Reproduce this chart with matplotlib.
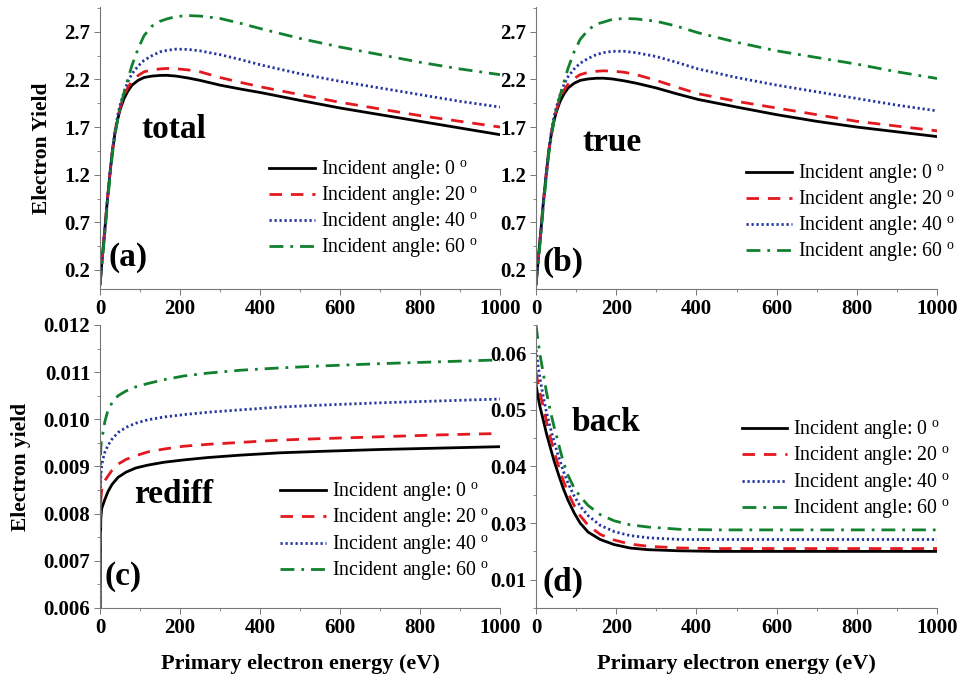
import numpy as np
import matplotlib
matplotlib.use("Agg")
import matplotlib.pyplot as plt
from matplotlib.ticker import MultipleLocator, FixedLocator, FixedFormatter, FormatStrFormatter

plt.rcParams['font.family'] = ['Liberation Serif', 'DejaVu Serif']
plt.rcParams['mathtext.fontset'] = 'custom'
plt.rcParams['mathtext.rm'] = 'Liberation Serif'

angles = [0, 20, 40, 60]
labels = ['Incident angle: %d $^{\\rm o}$' % a for a in angles]
colors = ['black', '#e3191f', '#2536a0', '#11802f']
styles = ['-', (0, (4.5, 3.2)), (0, (0.8, 1.0)), (0, (5, 2.5, 1, 2.5))]

# (a) total yield
total_x = [0, 6, 12.5, 18, 25, 31, 37.5, 44, 50, 60, 70, 80, 95, 110, 130, 150, 167, 190, 220,
           250, 300, 350, 404, 500, 600, 700, 800, 900, 1000]
total_y = [
    [0.05, 0.35, 0.65, 0.92, 1.22, 1.45, 1.64, 1.78, 1.88, 2.00, 2.08, 2.14, 2.19, 2.22, 2.235,
     2.242, 2.243, 2.235, 2.215, 2.19, 2.14, 2.10, 2.06, 1.98, 1.90, 1.83, 1.76, 1.69, 1.62],
    [0.05, 0.35, 0.65, 0.92, 1.22, 1.46, 1.65, 1.80, 1.90, 2.03, 2.12, 2.18, 2.24, 2.28, 2.30,
     2.31, 2.315, 2.312, 2.30, 2.28, 2.22, 2.17, 2.12, 2.04, 1.96, 1.89, 1.82, 1.76, 1.70],
    [0.05, 0.35, 0.65, 0.92, 1.22, 1.46, 1.66, 1.82, 1.93, 2.07, 2.18, 2.26, 2.34, 2.40, 2.45,
     2.49, 2.505, 2.518, 2.515, 2.50, 2.46, 2.41, 2.35, 2.26, 2.18, 2.11, 2.04, 1.97, 1.91],
    [0.05, 0.32, 0.60, 0.88, 1.18, 1.42, 1.62, 1.78, 1.90, 2.06, 2.21, 2.35, 2.52, 2.66, 2.76,
     2.81, 2.835, 2.86, 2.87, 2.865, 2.84, 2.79, 2.73, 2.63, 2.54, 2.46, 2.38, 2.31, 2.25],
]

# (b) true secondary yield
true_x = total_x
true_y = [
    [0.05, 0.34, 0.63, 0.90, 1.19, 1.42, 1.61, 1.75, 1.85, 1.97, 2.05, 2.11, 2.16, 2.19, 2.205,
     2.212, 2.213, 2.205, 2.185, 2.16, 2.11, 2.05, 1.99, 1.91, 1.83, 1.76, 1.70, 1.65, 1.60],
    [0.05, 0.34, 0.63, 0.90, 1.19, 1.43, 1.62, 1.77, 1.87, 2.00, 2.09, 2.15, 2.21, 2.25, 2.275,
     2.285, 2.29, 2.288, 2.275, 2.25, 2.19, 2.12, 2.05, 1.97, 1.90, 1.83, 1.76, 1.71, 1.66],
    [0.05, 0.34, 0.63, 0.90, 1.19, 1.43, 1.63, 1.79, 1.90, 2.04, 2.15, 2.23, 2.31, 2.37, 2.42,
     2.46, 2.48, 2.495, 2.495, 2.48, 2.44, 2.38, 2.31, 2.22, 2.14, 2.07, 2.00, 1.93, 1.87],
    [0.05, 0.31, 0.58, 0.86, 1.15, 1.39, 1.59, 1.75, 1.87, 2.03, 2.18, 2.32, 2.49, 2.62, 2.72,
     2.78, 2.80, 2.83, 2.84, 2.835, 2.81, 2.76, 2.69, 2.59, 2.50, 2.43, 2.36, 2.28, 2.21],
]

# (c) rediffused yield
rediff_x = [0, 1, 2, 4, 7, 12, 20, 30, 45, 65, 90, 120, 160, 210, 270, 350, 450, 550, 700, 850, 1000]
rediff_y = [
    [0.006, 0.0074, 0.0079, 0.0081, 0.00818, 0.0083, 0.00847, 0.00862, 0.00877, 0.00888, 0.00897,
     0.00903, 0.00909, 0.00914, 0.00919, 0.00924, 0.00929, 0.00932, 0.00936, 0.00939, 0.00942],
    [0.006, 0.0079, 0.0083, 0.0085, 0.0086, 0.0087, 0.00880, 0.00892, 0.00905, 0.00915, 0.00923,
     0.00931, 0.00937, 0.00943, 0.00947, 0.00951, 0.00956, 0.00959, 0.00963, 0.00967, 0.00970],
    [0.006, 0.0085, 0.0088, 0.0090, 0.00915, 0.0093, 0.00945, 0.00958, 0.00972, 0.00983, 0.00992,
     0.00999, 0.01005, 0.01010, 0.01015, 0.01020, 0.01026, 0.01030, 0.01035, 0.01039, 0.01043],
    [0.006, 0.0090, 0.0094, 0.0096, 0.0097, 0.00995, 0.01020, 0.01035, 0.01050, 0.01060, 0.01069,
     0.01076, 0.01084, 0.01092, 0.01098, 0.01104, 0.01109, 0.01113, 0.01118, 0.01122, 0.01126],
]

# (d) backscattered yield
back_x = [0, 5, 10, 18, 26, 35, 45, 55, 68, 80, 95, 110, 130, 160, 195, 234, 280, 359, 450, 600,
          800, 1000]
back_y = [
    [0.0544, 0.0523, 0.0505, 0.0482, 0.0458, 0.0435, 0.0410, 0.0388, 0.0361, 0.0340, 0.0318,
     0.0300, 0.0284, 0.0271, 0.0262, 0.0256, 0.0253, 0.0251, 0.0250, 0.0250, 0.0250, 0.0250],
    [0.0567, 0.0547, 0.0529, 0.0506, 0.0479, 0.0453, 0.0427, 0.0403, 0.0375, 0.0353, 0.0331,
     0.0313, 0.0296, 0.0280, 0.0270, 0.0263, 0.0259, 0.0256, 0.0255, 0.0255, 0.0255, 0.0255],
    [0.0606, 0.0578, 0.0555, 0.0523, 0.0496, 0.0470, 0.0444, 0.0420, 0.0392, 0.0370, 0.0348,
     0.0330, 0.0313, 0.0296, 0.0285, 0.0278, 0.0274, 0.0271, 0.0271, 0.0271, 0.0271, 0.0271],
    [0.0650, 0.0622, 0.0597, 0.0565, 0.0531, 0.0500, 0.0470, 0.0443, 0.0408, 0.0384, 0.0362,
     0.0347, 0.0331, 0.0315, 0.0304, 0.0297, 0.0293, 0.0289, 0.0288, 0.0288, 0.0288, 0.0288],
]

fig = plt.figure(figsize=(9.61, 6.81), dpi=100)
ax_a = fig.add_axes([0.1041, 0.5756, 0.4162, 0.4141])
ax_b = fig.add_axes([0.5578, 0.5756, 0.4173, 0.4141])
ax_c = fig.add_axes([0.1041, 0.1072, 0.4162, 0.4156])
ax_d = fig.add_axes([0.5578, 0.1072, 0.4173, 0.4156])


def draw(ax, x, ys):
    for i in range(4):
        ax.plot(x, ys[i], color=colors[i], linestyle=styles[i], lw=2.0, label=labels[i])


draw(ax_a, total_x, total_y)
draw(ax_b, true_x, true_y)
draw(ax_c, rediff_x, rediff_y)
draw(ax_d, back_x, back_y)

for ax in [ax_a, ax_b]:
    ax.set_ylim(0.0, 2.96)
    ax.yaxis.set_major_locator(FixedLocator([0.2, 0.7, 1.2, 1.7, 2.2, 2.7]))
    ax.yaxis.set_minor_locator(FixedLocator([0.45, 0.95, 1.45, 1.95, 2.45, 2.95]))
    ax.yaxis.set_major_formatter(FormatStrFormatter('%.1f'))

ax_c.set_ylim(0.006, 0.012)
ax_c.yaxis.set_major_locator(MultipleLocator(0.001))
ax_c.yaxis.set_minor_locator(MultipleLocator(0.0005))
ax_c.yaxis.set_major_formatter(FormatStrFormatter('%.3f'))

ax_d.set_ylim(0.015, 0.065)
ax_d.yaxis.set_major_locator(FixedLocator([0.02, 0.03, 0.04, 0.05, 0.06]))
ax_d.yaxis.set_major_formatter(FixedFormatter(['0.01', '0.03', '0.04', '0.05', '0.06']))
ax_d.yaxis.set_minor_locator(MultipleLocator(0.005))

for ax in [ax_a, ax_b, ax_c, ax_d]:
    ax.set_xlim(0, 1000)
    ax.xaxis.set_major_locator(MultipleLocator(200))
    ax.xaxis.set_minor_locator(MultipleLocator(100))
    for s in ['top', 'right']:
        ax.spines[s].set_visible(False)
    for s in ['left', 'bottom']:
        ax.spines[s].set_color('#777777')
        ax.spines[s].set_linewidth(0.8)
    ax.tick_params(which='major', direction='out', length=4, width=0.7, color='#777777',
                   labelsize=15, pad=3)
    ax.tick_params(which='minor', direction='out', length=2.5, width=0.6, color='#777777')
    for t in ax.get_xticklabels() + ax.get_yticklabels():
        t.set_fontweight('bold')

ax_a.set_ylabel('Electron Yield', fontsize=15.5, fontweight='bold', labelpad=9)
ax_c.set_ylabel('Electron yield', fontsize=15.5, fontweight='bold', labelpad=9)
ax_c.set_xlabel('Primary electron energy (eV)', fontsize=16, fontweight='bold', labelpad=12)
ax_d.set_xlabel('Primary electron energy (eV)', fontsize=16, fontweight='bold', labelpad=12)

big = dict(fontsize=24, fontweight='bold', ha='center', va='center')
ax_a.text(185, 1.67, 'total', **big)
ax_a.text(70, 0.33, '(a)', **big)
ax_b.text(190, 1.54, 'true', **big)
ax_b.text(68, 0.28, '(b)', **big)
ax_c.text(183, 0.0084, 'rediff', **big)
ax_c.text(58, 0.00666, '(c)', **big)
ax_d.text(175, 0.0477, 'back', **big)
ax_d.text(68, 0.0195, '(d)', **big)

leg_kw = dict(loc='upper left', frameon=False, fontsize=14.3, borderpad=0, borderaxespad=0,
              handlelength=2.3, handletextpad=0.3, labelspacing=0.12)
ax_a.legend(bbox_to_anchor=(0.4225, 0.465), **leg_kw)
ax_b.legend(bbox_to_anchor=(0.524, 0.451), **leg_kw)
ax_c.legend(bbox_to_anchor=(0.45, 0.45), **leg_kw)
ax_d.legend(bbox_to_anchor=(0.513, 0.669), **leg_kw)

fig.savefig('out.png', dpi=100)
